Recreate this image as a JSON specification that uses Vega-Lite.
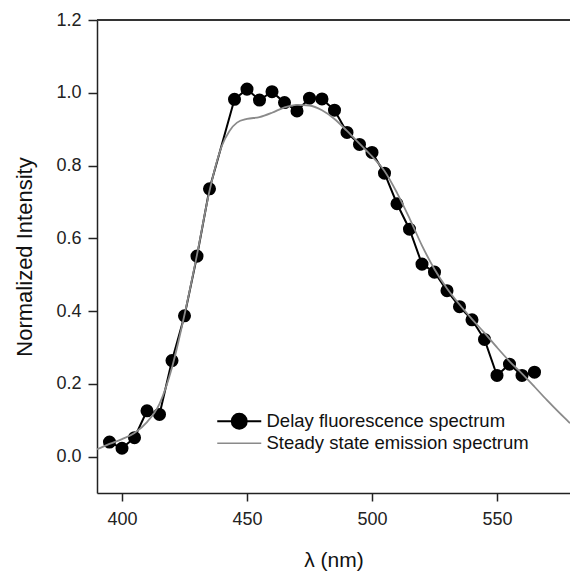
{
  "$schema": "https://vega.github.io/schema/vega-lite/v6.json",
  "width": 473,
  "height": 473,
  "autosize": {"type": "none"},
  "padding": {"left": 97, "top": 20, "right": 0, "bottom": 80},
  "background": "white",
  "config": {
    "view": {"stroke": null},
    "font": "Liberation Sans",
    "axis": {
      "grid": false,
      "domainColor": "#222",
      "domainWidth": 1.5,
      "tickColor": "#222",
      "tickWidth": 1.5,
      "labelFont": "Liberation Sans",
      "labelFontSize": 18,
      "labelColor": "#222",
      "titleFont": "Liberation Sans",
      "titleFontSize": 21,
      "titleFontWeight": "normal",
      "titleColor": "#111"
    }
  },
  "datasets": {
    "spectra": [
      {"lambda": 395, "intensity": 0.040, "series": "Delay fluorescence spectrum"},
      {"lambda": 400, "intensity": 0.023, "series": "Delay fluorescence spectrum"},
      {"lambda": 405, "intensity": 0.052, "series": "Delay fluorescence spectrum"},
      {"lambda": 410, "intensity": 0.126, "series": "Delay fluorescence spectrum"},
      {"lambda": 415, "intensity": 0.116, "series": "Delay fluorescence spectrum"},
      {"lambda": 420, "intensity": 0.264, "series": "Delay fluorescence spectrum"},
      {"lambda": 425, "intensity": 0.387, "series": "Delay fluorescence spectrum"},
      {"lambda": 430, "intensity": 0.551, "series": "Delay fluorescence spectrum"},
      {"lambda": 435, "intensity": 0.736, "series": "Delay fluorescence spectrum"},
      {"lambda": 445, "intensity": 0.982, "series": "Delay fluorescence spectrum"},
      {"lambda": 450, "intensity": 1.010, "series": "Delay fluorescence spectrum"},
      {"lambda": 455, "intensity": 0.980, "series": "Delay fluorescence spectrum"},
      {"lambda": 460, "intensity": 1.003, "series": "Delay fluorescence spectrum"},
      {"lambda": 465, "intensity": 0.973, "series": "Delay fluorescence spectrum"},
      {"lambda": 470, "intensity": 0.950, "series": "Delay fluorescence spectrum"},
      {"lambda": 475, "intensity": 0.985, "series": "Delay fluorescence spectrum"},
      {"lambda": 480, "intensity": 0.983, "series": "Delay fluorescence spectrum"},
      {"lambda": 485, "intensity": 0.952, "series": "Delay fluorescence spectrum"},
      {"lambda": 490, "intensity": 0.891, "series": "Delay fluorescence spectrum"},
      {"lambda": 495, "intensity": 0.858, "series": "Delay fluorescence spectrum"},
      {"lambda": 500, "intensity": 0.836, "series": "Delay fluorescence spectrum"},
      {"lambda": 505, "intensity": 0.779, "series": "Delay fluorescence spectrum"},
      {"lambda": 510, "intensity": 0.695, "series": "Delay fluorescence spectrum"},
      {"lambda": 515, "intensity": 0.625, "series": "Delay fluorescence spectrum"},
      {"lambda": 520, "intensity": 0.529, "series": "Delay fluorescence spectrum"},
      {"lambda": 525, "intensity": 0.507, "series": "Delay fluorescence spectrum"},
      {"lambda": 530, "intensity": 0.456, "series": "Delay fluorescence spectrum"},
      {"lambda": 535, "intensity": 0.412, "series": "Delay fluorescence spectrum"},
      {"lambda": 540, "intensity": 0.376, "series": "Delay fluorescence spectrum"},
      {"lambda": 545, "intensity": 0.322, "series": "Delay fluorescence spectrum"},
      {"lambda": 550, "intensity": 0.223, "series": "Delay fluorescence spectrum"},
      {"lambda": 555, "intensity": 0.254, "series": "Delay fluorescence spectrum"},
      {"lambda": 560, "intensity": 0.223, "series": "Delay fluorescence spectrum"},
      {"lambda": 565, "intensity": 0.232, "series": "Delay fluorescence spectrum"},
      {"lambda": 390, "intensity": 0.020, "series": "Steady state emission spectrum"},
      {"lambda": 395, "intensity": 0.035, "series": "Steady state emission spectrum"},
      {"lambda": 400, "intensity": 0.048, "series": "Steady state emission spectrum"},
      {"lambda": 405, "intensity": 0.065, "series": "Steady state emission spectrum"},
      {"lambda": 410, "intensity": 0.095, "series": "Steady state emission spectrum"},
      {"lambda": 415, "intensity": 0.145, "series": "Steady state emission spectrum"},
      {"lambda": 420, "intensity": 0.245, "series": "Steady state emission spectrum"},
      {"lambda": 425, "intensity": 0.390, "series": "Steady state emission spectrum"},
      {"lambda": 430, "intensity": 0.555, "series": "Steady state emission spectrum"},
      {"lambda": 435, "intensity": 0.730, "series": "Steady state emission spectrum"},
      {"lambda": 440, "intensity": 0.855, "series": "Steady state emission spectrum"},
      {"lambda": 443, "intensity": 0.895, "series": "Steady state emission spectrum"},
      {"lambda": 446, "intensity": 0.918, "series": "Steady state emission spectrum"},
      {"lambda": 450, "intensity": 0.928, "series": "Steady state emission spectrum"},
      {"lambda": 455, "intensity": 0.933, "series": "Steady state emission spectrum"},
      {"lambda": 460, "intensity": 0.945, "series": "Steady state emission spectrum"},
      {"lambda": 465, "intensity": 0.960, "series": "Steady state emission spectrum"},
      {"lambda": 470, "intensity": 0.967, "series": "Steady state emission spectrum"},
      {"lambda": 475, "intensity": 0.965, "series": "Steady state emission spectrum"},
      {"lambda": 480, "intensity": 0.952, "series": "Steady state emission spectrum"},
      {"lambda": 485, "intensity": 0.928, "series": "Steady state emission spectrum"},
      {"lambda": 490, "intensity": 0.895, "series": "Steady state emission spectrum"},
      {"lambda": 495, "intensity": 0.860, "series": "Steady state emission spectrum"},
      {"lambda": 500, "intensity": 0.825, "series": "Steady state emission spectrum"},
      {"lambda": 505, "intensity": 0.785, "series": "Steady state emission spectrum"},
      {"lambda": 510, "intensity": 0.725, "series": "Steady state emission spectrum"},
      {"lambda": 515, "intensity": 0.655, "series": "Steady state emission spectrum"},
      {"lambda": 520, "intensity": 0.580, "series": "Steady state emission spectrum"},
      {"lambda": 525, "intensity": 0.515, "series": "Steady state emission spectrum"},
      {"lambda": 530, "intensity": 0.462, "series": "Steady state emission spectrum"},
      {"lambda": 535, "intensity": 0.418, "series": "Steady state emission spectrum"},
      {"lambda": 540, "intensity": 0.378, "series": "Steady state emission spectrum"},
      {"lambda": 545, "intensity": 0.340, "series": "Steady state emission spectrum"},
      {"lambda": 550, "intensity": 0.300, "series": "Steady state emission spectrum"},
      {"lambda": 555, "intensity": 0.262, "series": "Steady state emission spectrum"},
      {"lambda": 560, "intensity": 0.228, "series": "Steady state emission spectrum"},
      {"lambda": 565, "intensity": 0.192, "series": "Steady state emission spectrum"},
      {"lambda": 570, "intensity": 0.155, "series": "Steady state emission spectrum"},
      {"lambda": 575, "intensity": 0.120, "series": "Steady state emission spectrum"},
      {"lambda": 579.2, "intensity": 0.092, "series": "Steady state emission spectrum"}
    ],
    "border": [{"edge": "top"}]
  },
  "layer": [
    {
      "data": {"name": "border"},
      "mark": {"type": "rule", "color": "#333", "strokeWidth": 2},
      "encoding": {
        "y": {"datum": 1.2, "type": "quantitative"}
      }
    },
    {
      "data": {"name": "spectra"},
      "transform": [{"filter": "datum.series === 'Delay fluorescence spectrum'"}],
      "mark": {"type": "line", "strokeWidth": 2},
      "encoding": {
        "x": {"field": "lambda", "type": "quantitative"},
        "y": {"field": "intensity", "type": "quantitative"},
        "color": {
          "field": "series",
          "type": "nominal",
          "scale": {
            "domain": ["Delay fluorescence spectrum", "Steady state emission spectrum"],
            "range": ["#000000", "#8a8a8a"]
          },
          "legend": {
            "orient": "none",
            "legendX": 133,
            "legendY": 392,
            "title": null,
            "padding": 0,
            "symbolSize": 100,
            "labelOffset": 18,
            "labelFont": "Liberation Sans",
            "labelFontSize": 18.5,
            "labelColor": "#111",
            "labelLimit": 500,
            "rowPadding": 1,
            "encode": {
              "symbols": {
                "update": {
                  "shape": {"signal": "datum.value === 'Delay fluorescence spectrum' ? 'M-4.4,0H4.4M1.5,0A1.5,1.5 0 1,1 -1.5,0A1.5,1.5 0 1,1 1.5,0Z' : 'M-4.4,0H4.4'"},
                  "fill": {"signal": "datum.value === 'Delay fluorescence spectrum' ? '#000000' : 'transparent'"},
                  "stroke": {"signal": "datum.value === 'Delay fluorescence spectrum' ? '#000000' : '#8a8a8a'"},
                  "strokeWidth": {"signal": "datum.value === 'Delay fluorescence spectrum' ? 2 : 1.6"},
                  "opacity": {"value": 1}
                }
              }
            }
          }
        }
      }
    },
    {
      "data": {"name": "spectra"},
      "transform": [{"filter": "datum.series === 'Delay fluorescence spectrum'"}],
      "mark": {"type": "point", "filled": true, "color": "#000000", "opacity": 1, "size": 170},
      "encoding": {
        "x": {"field": "lambda", "type": "quantitative"},
        "y": {"field": "intensity", "type": "quantitative"}
      }
    },
    {
      "data": {"name": "spectra"},
      "transform": [{"filter": "datum.series === 'Steady state emission spectrum'"}],
      "mark": {"type": "line", "strokeWidth": 1.8, "interpolate": "monotone"},
      "encoding": {
        "x": {
          "field": "lambda",
          "type": "quantitative",
          "scale": {"domain": [390, 579.2], "nice": false, "zero": false},
          "axis": {"values": [400, 450, 500, 550], "tickSize": 8, "labelPadding": 9, "title": "λ (nm)", "titleFontSize": 21, "titlePadding": 21}
        },
        "y": {
          "field": "intensity",
          "type": "quantitative",
          "scale": {"domain": [-0.1, 1.2], "nice": false, "zero": false},
          "axis": {"values": [0, 0.2, 0.4, 0.6, 0.8, 1.0, 1.2], "format": ".1f", "tickSize": 9, "labelPadding": 7, "title": "Normalized Intensity", "titleFontSize": 22, "titlePadding": 19}
        },
        "color": {"field": "series", "type": "nominal"}
      }
    }
  ]
}
